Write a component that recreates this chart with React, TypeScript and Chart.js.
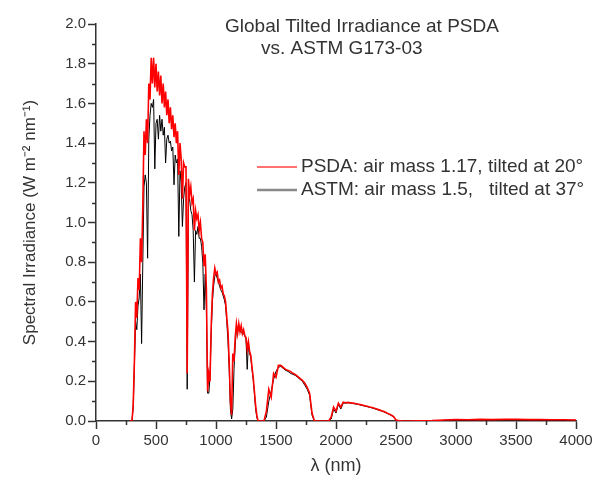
import { useEffect, useRef } from "react";
import { Chart, registerables } from "chart.js";

Chart.register(...registerables);

// Wavelength grid (nm)
const wavelength = [
  280, 290,
  300, 310, 320, 330, 340, 350, 360, 370, 380, 390,
  400, 410, 420, 430, 440, 450, 460, 470, 480, 490,
  500, 510, 520, 530, 540, 550, 560, 570, 580, 590,
  600, 610, 620, 630, 640, 650, 660, 670, 680, 690,
  700, 710, 720, 730, 740, 750, 760, 770, 780, 790,
  800, 810, 820, 830, 840, 850, 860, 870, 880, 890,
  900, 910, 920, 930, 940, 950, 960, 970, 980, 990,
  1000, 1010, 1020, 1030, 1040, 1050, 1060, 1070, 1080, 1090,
  1100, 1110, 1120, 1130, 1140, 1150, 1160, 1170, 1180, 1190,
  1200, 1210, 1220, 1230, 1240, 1250, 1260, 1270, 1280, 1290,
  1300, 1310, 1320, 1330, 1340, 1350, 1360, 1370, 1380, 1390,
  1400,
  1420, 1440, 1460, 1480, 1500, 1520, 1540, 1560, 1580, 1600,
  1620, 1640, 1660, 1680, 1700, 1720, 1740, 1760, 1780, 1800,
  1820, 1840, 1860, 1880, 1900, 1920, 1940, 1960, 1980, 2000,
  2020, 2040, 2060, 2080, 2100, 2120, 2140, 2160, 2180, 2200,
  2220, 2240, 2260, 2280, 2300, 2320, 2340, 2360, 2380, 2400,
  2420, 2440, 2460, 2480, 2500, 2520, 2540, 2560, 2580, 2600,
  2700, 2800, 2900, 3000, 3100, 3200, 3300, 3400, 3500, 3600,
  3700, 3800, 3900, 4000,
];

// PSDA: air mass 1.17, tilted at 20° (W m-2 nm-1)
const psda = [
  0, 0,
  0, 0.08, 0.30, 0.60, 0.52, 0.72, 0.66, 0.92, 0.80, 1.08,
  1.46, 1.34, 1.52, 1.40, 1.70, 1.62, 1.83, 1.70, 1.83, 1.68,
  1.80, 1.66, 1.76, 1.64, 1.74, 1.60, 1.70, 1.58, 1.66, 1.54,
  1.62, 1.50, 1.58, 1.47, 1.54, 1.43, 1.50, 1.40, 1.46, 1.24,
  1.40, 1.32, 1.12, 1.30, 1.28, 1.28, 0.24, 1.22, 1.14, 1.18,
  1.10, 1.12, 0.96, 1.06, 1.02, 1.04, 0.96, 1.00, 0.92, 0.90,
  0.78, 0.84, 0.66, 0.15, 0.24, 0.20, 0.48, 0.64, 0.72, 0.77,
  0.74, 0.75, 0.70, 0.71, 0.67, 0.68, 0.64, 0.63, 0.60, 0.52,
  0.45, 0.30, 0.10, 0.03, 0.34, 0.30, 0.42, 0.49, 0.44, 0.49,
  0.45, 0.48, 0.44, 0.46, 0.43, 0.42, 0.36, 0.40, 0.35, 0.33,
  0.27, 0.22, 0.15, 0.08, 0.03, 0, 0, 0, 0, 0,
  0,
  0.05, 0.16, 0.12, 0.24, 0.22, 0.28, 0.28, 0.27, 0.26, 0.255,
  0.25, 0.24, 0.235, 0.225, 0.215, 0.205, 0.19, 0.17, 0.14, 0.04,
  0, 0, 0, 0, 0, 0, 0, 0.02, 0.07, 0.05,
  0.09, 0.07, 0.095, 0.092, 0.094, 0.092, 0.09, 0.088, 0.086, 0.083,
  0.08, 0.077, 0.074, 0.071, 0.068, 0.064, 0.06, 0.056, 0.052, 0.048,
  0.042, 0.036, 0.03, 0.022, 0.005, 0.002, 0.001, 0, 0, 0,
  0.001, 0.002, 0.005, 0.007, 0.006, 0.008, 0.007, 0.008, 0.008, 0.007,
  0.007, 0.006, 0.006, 0.005,
];

// ASTM G173-03: air mass 1.5, tilted at 37° (W m-2 nm-1)
const astm = [
  0, 0,
  0, 0.07, 0.28, 0.50, 0.46, 0.58, 0.62, 0.74, 0.39, 0.80,
  1.18, 1.24, 1.20, 0.82, 1.42, 1.54, 1.60, 1.58, 1.62, 1.27,
  1.50, 1.52, 1.42, 1.54, 1.46, 1.52, 1.44, 1.48, 1.30, 1.42,
  1.44, 1.40, 1.41, 1.36, 1.38, 1.19, 1.34, 1.30, 1.32, 0.93,
  1.26, 1.20, 0.98, 1.12, 1.18, 1.20, 0.16, 1.10, 1.12, 1.06,
  1.04, 0.96, 0.70, 0.96, 0.94, 0.98, 0.92, 0.92, 0.88, 0.80,
  0.56, 0.74, 0.56, 0.14, 0.14, 0.22, 0.44, 0.60, 0.68, 0.73,
  0.74, 0.72, 0.70, 0.68, 0.66, 0.65, 0.63, 0.61, 0.58, 0.50,
  0.40, 0.26, 0.06, 0.01, 0.06, 0.26, 0.38, 0.46, 0.45, 0.46,
  0.45, 0.45, 0.44, 0.44, 0.43, 0.41, 0.26, 0.39, 0.34, 0.32,
  0.26, 0.21, 0.14, 0.06, 0.02, 0, 0, 0, 0, 0,
  0,
  0.02, 0.10, 0.15, 0.21, 0.25, 0.27, 0.275, 0.265, 0.255, 0.25,
  0.24, 0.235, 0.23, 0.22, 0.21, 0.20, 0.18, 0.16, 0.13, 0.03,
  0, 0, 0, 0, 0, 0, 0, 0.01, 0.06, 0.04,
  0.085, 0.06, 0.09, 0.09, 0.092, 0.09, 0.088, 0.086, 0.084, 0.081,
  0.078, 0.075, 0.072, 0.069, 0.066, 0.062, 0.058, 0.054, 0.05, 0.046,
  0.04, 0.034, 0.028, 0.02, 0.004, 0.001, 0, 0, 0, 0,
  0, 0.001, 0.003, 0.004, 0.004, 0.005, 0.005, 0.005, 0.005, 0.004,
  0.004, 0.004, 0.003, 0.003,
];

const titleLines = ["Global Tilted Irradiance at PSDA", "vs. ASTM G173-03"];
const legendLabels = ["PSDA: air mass 1.17, tilted at 20°", "ASTM: air mass 1.5,   tilted at 37°"];
const xMinorTicks = [250, 750, 1250, 1750, 2250, 2750, 3250, 3750];
const yMinorTicks = [0.1, 0.3, 0.5, 0.7, 0.9, 1.1, 1.3, 1.5, 1.7, 1.9];

const FONT = "'Liberation Sans', Arial, Helvetica, sans-serif";
const TEXT = "#333333";
const AXIS = "#333333";

const overlayPlugin = {
  id: "overlay",
  afterDraw(chart: any) {
    const ctx = chart.ctx as CanvasRenderingContext2D;
    const xs = chart.scales.x;
    const ys = chart.scales.y;
    ctx.save();
    // minor ticks
    ctx.strokeStyle = AXIS;
    ctx.lineWidth = 1.5;
    ctx.beginPath();
    xMinorTicks.forEach((v) => {
      const px = Math.round(xs.getPixelForValue(v)) + 0.5;
      ctx.moveTo(px, ys.bottom);
      ctx.lineTo(px, ys.bottom + 4);
    });
    yMinorTicks.forEach((v) => {
      const py = Math.round(ys.getPixelForValue(v)) + 0.5;
      ctx.moveTo(xs.left - 4, py);
      ctx.lineTo(xs.left, py);
    });
    ctx.stroke();

    // title lines
    ctx.fillStyle = TEXT;
    ctx.font = `19px ${FONT}`;
    ctx.textAlign = "left";
    ctx.textBaseline = "middle";
    ctx.fillText(titleLines[0], 225, 27);
    ctx.fillText(titleLines[1], 261, 49);

    // legend
    ctx.lineWidth = 1.5;
    ctx.strokeStyle = "#ff4040";
    ctx.beginPath();
    ctx.moveTo(257, 167);
    ctx.lineTo(297, 167);
    ctx.stroke();
    ctx.lineWidth = 2.5;
    ctx.strokeStyle = "#8a8a8a";
    ctx.beginPath();
    ctx.moveTo(257, 190);
    ctx.lineTo(297, 190);
    ctx.stroke();
    ctx.fillText(legendLabels[0], 301, 167);
    ctx.fillText(legendLabels[1], 301, 190);
    ctx.restore();
  },
};

export default function App() {
  const ref = useRef<HTMLCanvasElement | null>(null);

  useEffect(() => {
    if (!ref.current) return;
    const chart = new Chart(ref.current, {
      type: "line",
      data: {
        datasets: [
          {
            label: legendLabels[0],
            data: wavelength.map((w, i) => ({ x: w, y: psda[i] })),
            borderColor: "#ff0000",
            borderWidth: 1.6,
            pointRadius: 0,
            tension: 0,
            fill: false,
          },
          {
            label: legendLabels[1],
            data: wavelength.map((w, i) => ({ x: w, y: astm[i] })),
            borderColor: "#000000",
            borderWidth: 1,
            pointRadius: 0,
            tension: 0,
            fill: false,
          },
        ],
      },
      options: {
        animation: false,
        responsive: false,
        devicePixelRatio: 1,
        layout: { padding: { top: 24, right: 33, left: 0, bottom: 0 } },
        plugins: {
          legend: { display: false },
          title: { display: false },
          tooltip: { enabled: false },
        },
        scales: {
          x: {
            type: "linear",
            min: 0,
            max: 4000,
            afterFit: (s: any) => {
              s.height = 58;
            },
            ticks: {
              stepSize: 500,
              autoSkip: false,
              maxRotation: 0,
              padding: 3,
              color: TEXT,
              font: { family: FONT, size: 15 },
              callback: (v: any) => String(v),
            },
            grid: {
              drawOnChartArea: false,
              drawTicks: true,
              tickLength: 8,
              tickWidth: 1.5,
              tickColor: AXIS,
            },
            border: { display: true, color: AXIS, width: 1.5 },
            title: {
              display: true,
              text: "λ (nm)",
              color: TEXT,
              font: { family: FONT, size: 18 },
              padding: { top: 0, bottom: 2 },
            },
          },
          y: {
            type: "linear",
            min: 0,
            max: 2,
            afterFit: (s: any) => {
              s.width = 96;
            },
            ticks: {
              stepSize: 0.2,
              autoSkip: false,
              padding: 2,
              color: TEXT,
              font: { family: FONT, size: 15 },
              callback: (v: any) => Number(v).toFixed(1),
            },
            grid: {
              drawOnChartArea: false,
              drawTicks: true,
              tickLength: 8,
              tickWidth: 1.5,
              tickColor: AXIS,
            },
            border: { display: true, color: AXIS, width: 1.5 },
            title: {
              display: true,
              text: "Spectral Irradiance (W m⁻² nm⁻¹)",
              color: TEXT,
              font: { family: FONT, size: 17 },
              padding: { top: 20, bottom: 0 },
            },
          },
        },
      },
      plugins: [overlayPlugin],
    });
    return () => chart.destroy();
  }, []);

  return (
    <div style={{ position: "fixed", left: 0, top: 0, width: 609, height: 479, background: "#ffffff" }}>
      <canvas ref={ref} width={609} height={479} style={{ width: 609, height: 479, display: "block" }} />
    </div>
  );
}
